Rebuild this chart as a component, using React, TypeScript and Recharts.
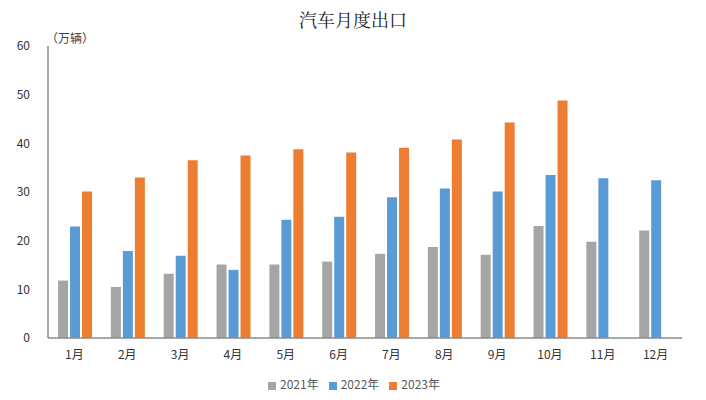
import React from 'react';
import { BarChart, Bar, XAxis, YAxis, Legend } from 'recharts';

const months = ['1月', '2月', '3月', '4月', '5月', '6月', '7月', '8月', '9月', '10月', '11月', '12月'];
const y2021 = [11.8, 10.5, 13.2, 15.1, 15.1, 15.7, 17.3, 18.7, 17.1, 23.0, 19.8, 22.1];
const y2022 = [22.9, 17.9, 16.9, 14.0, 24.3, 24.9, 28.9, 30.7, 30.1, 33.5, 32.8, 32.4];
const y2023 = [30.1, 33.0, 36.5, 37.5, 38.8, 38.1, 39.1, 40.8, 44.3, 48.8, null, null];
const yTicks = [0, 10, 20, 30, 40, 50, 60];

const data = months.map((m, i) => ({ month: m, a: y2021[i], b: y2022[i], c: y2023[i] }));

const font = '"Noto Sans CJK SC", "Noto Sans", sans-serif';

export default function App() {
  return (
    <div style={{ position: 'absolute', left: 0, top: 0, width: 706, height: 400, background: '#fff', fontFamily: font }}>
      <div style={{ position: 'absolute', left: 0, width: 706, top: 6, textAlign: 'center', fontSize: 18, color: '#222', fontFamily: '"Noto Serif CJK SC", "Noto Sans CJK SC", serif' }}>
        汽车月度出口
      </div>
      <div style={{ position: 'absolute', left: 46, top: 29, fontSize: 12, color: '#404040' }}>（万辆）</div>
      <BarChart
        width={706}
        height={400}
        data={data}
        margin={{ top: 46, right: 24, left: 0, bottom: 6 }}
        barCategoryGap="19%"
        barGap={2}
      >
        <XAxis
          dataKey="month"
          tickLine={false}
          axisLine={{ stroke: '#8c8c8c', strokeWidth: 1.5 }}
          tick={{ fontSize: 12, fill: '#333' }}
          height={30}
          tickMargin={6}
        />
        <YAxis
          domain={[0, 60]}
          ticks={yTicks}
          tickLine={false}
          axisLine={{ stroke: '#8c8c8c', strokeWidth: 1.5 }}
          tick={{ fontSize: 12, fill: '#333' }}
          width={48}
          tickMargin={12}
        />
        <Legend
          verticalAlign="bottom"
          iconType="square"
          iconSize={8}
          height={26}
          wrapperStyle={{ fontSize: 12, color: '#595959', bottom: -1, paddingLeft: 18 }}
          formatter={(v) => <span style={{ color: '#595959' }}>{v}</span>}
        />
        <Bar dataKey="a" name="2021年" fill="#A5A5A5" isAnimationActive={false} />
        <Bar dataKey="b" name="2022年" fill="#5B9BD5" isAnimationActive={false} />
        <Bar dataKey="c" name="2023年" fill="#ED7D31" isAnimationActive={false} />
      </BarChart>
    </div>
  );
}
